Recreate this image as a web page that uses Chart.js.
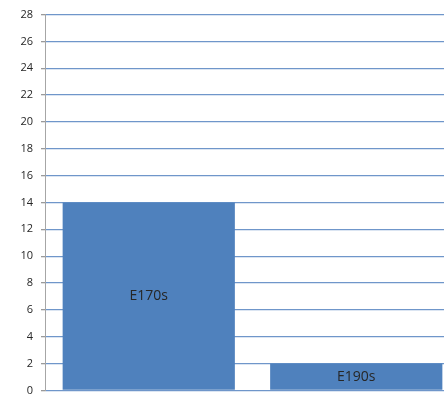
<!DOCTYPE html>
<html>
<head>
<meta charset="utf-8">
<script src="https://cdn.jsdelivr.net/npm/chart.js@4"></script>
<style>
    html, body { margin: 0; padding: 0; background: #fff; overflow: hidden; }
    #wrap { width: 444px; height: 394px; overflow: hidden; }
</style>
</head>
<body>
<div id="wrap"><canvas id="myChart" width="460" height="405"></canvas></div>
<script>
// dados do grafico
const categories = ['E170s', 'E190s'];
const seriesValues = [14, 2];
const yMin = 0;
const yMax = 28;
const yStep = 2;

// escreve o nome da categoria dentro de cada barra
const barLabels = {
    id: 'barLabels',
    afterDatasetsDraw(chart) {
        const ctx = chart.ctx;
        const meta = chart.getDatasetMeta(0);
        ctx.save();
        ctx.font = '14px "Open Sans", sans-serif';
        ctx.fillStyle = '#262626';
        ctx.textAlign = 'center';
        ctx.textBaseline = 'middle';
        meta.data.forEach((bar, i) => {
            const p = bar.getProps(['x', 'y', 'base'], true);
            ctx.fillText(categories[i], p.x, (p.y + p.base) / 2);
        });
        ctx.restore();
    }
};

function chartStartup() {
    const ctx = document.getElementById('myChart');

    new Chart(ctx, {
        type: 'bar',
        data: {
            labels: categories,
            datasets: [{
                data: seriesValues,
                backgroundColor: '#4f81bd',
                borderWidth: 0,
                barPercentage: 0.83,
                categoryPercentage: 1
            }]
        },
        options: {
            responsive: false,
            animation: false,
            layout: { padding: { top: 8, bottom: 0, left: 0, right: 0 } },
            plugins: { legend: { display: false }, tooltip: { enabled: false } },
            scales: {
                x: { display: false },
                y: {
                    min: yMin,
                    max: yMax,
                    afterFit: (scale) => { scale.width = 45; },
                    ticks: {
                        stepSize: yStep,
                        padding: 8,
                        color: '#262626',
                        font: { family: '"Open Sans", sans-serif', size: 11 }
                    },
                    grid: {
                        color: '#6f96ca',
                        lineWidth: 1.3,
                        tickLength: 4,
                        tickColor: '#9a9a9a'
                    },
                    border: { display: true, color: '#a6a6a6', width: 1 }
                }
            }
        },
        plugins: [barLabels]
    });
}

chartStartup();
</script>
</body>
</html>
